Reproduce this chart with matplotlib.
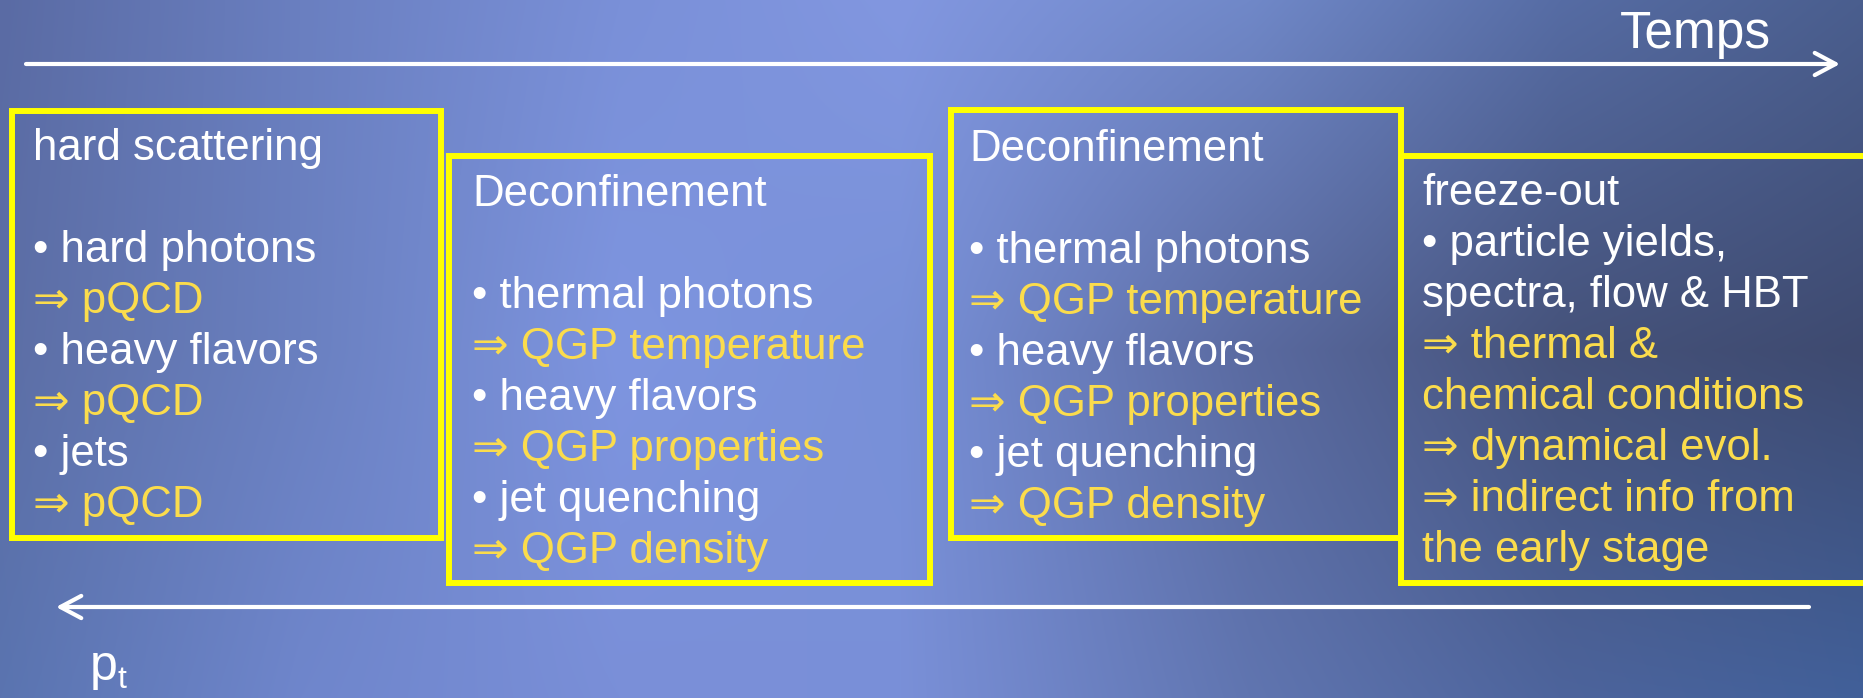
import numpy as np
import matplotlib
matplotlib.use("Agg")
import matplotlib.pyplot as plt
from matplotlib.patches import Rectangle

# ---------------- content ----------------
time_label = "Temps"
pt_label_main = "p"
pt_label_sub = "t"

box1_lines = [("hard scattering", "w"), ("", "w"),
              ("• hard photons", "w"), ("⇒ pQCD", "y"),
              ("• heavy flavors", "w"), ("⇒ pQCD", "y"),
              ("• jets", "w"), ("⇒ pQCD", "y")]
box2_lines = [("Deconfinement", "w"), ("", "w"),
              ("• thermal photons", "w"), ("⇒ QGP temperature", "y"),
              ("• heavy flavors", "w"), ("⇒ QGP properties", "y"),
              ("• jet quenching", "w"), ("⇒ QGP density", "y")]
box3_lines = [("Deconfinement", "w"), ("", "w"),
              ("• thermal photons", "w"), ("⇒ QGP temperature", "y"),
              ("• heavy flavors", "w"), ("⇒ QGP properties", "y"),
              ("• jet quenching", "w"), ("⇒ QGP density", "y")]
box4_lines = [("freeze-out", "w"),
              ("• particle yields,", "w"), ("spectra, flow & HBT", "w"),
              ("⇒ thermal &", "y"), ("chemical conditions", "y"),
              ("⇒ dynamical evol.", "y"), ("⇒ indirect info from", "y"),
              ("the early stage", "y")]

# ---------------- layout / style ----------------
W, H = 1863, 698
FONT = ["Liberation Sans", "DejaVu Sans"]
COL = {"w": "#ffffff", "y": "#fbdc4c"}
BOX_COLOR = "#ffff00"
PITCH = 51.0
FS = 31.5

# (left, top, right, bottom) of border centre lines, text x, first baseline
boxes = [
    (box1_lines, (12, 111, 441, 538), 33, 160),
    (box2_lines, (449, 156, 930, 583), 472, 206),
    (box3_lines, (951, 110, 1401, 538), 969, 161),
    (box4_lines, (1401, 156, 1880, 583), 1422, 205),
]

fig = plt.figure(figsize=(W / 100, H / 100), dpi=100)
ax = fig.add_axes([0, 0, 1, 1])
ax.set_xlim(0, W)
ax.set_ylim(H, 0)
ax.axis("off")

# ---------------- background gradient ----------------
def hx(c):
    return np.array([int(c[i:i + 2], 16) for i in (1, 3, 5)]) / 255.0

bg_x = np.array([0, 300, 620, 900, 1250, 1560, 1863])
bg_y = np.array([0, 350, 698])
bg_cols = [
    ["#5a6ba4", "#6a7fc0", "#7a90d8", "#8297e0", "#7088c8", "#566ca4", "#4a5e8e"],
    ["#5c6ea5", "#6a80c0", "#7e95e0", "#7890d8", "#5a6aa0", "#45527a", "#3e4a70"],
    ["#5a74b0", "#6f86cc", "#7a8fd8", "#7a90d8", "#6075b0", "#4d649c", "#41609a"],
]
xs = np.arange(W)
ys = np.arange(H)
rows = []
for r in bg_cols:
    arr = np.array([hx(c) for c in r])
    rows.append(np.stack([np.interp(xs, bg_x, arr[:, k]) for k in range(3)], axis=-1))
rows = np.array(rows)  # 3 x W x 3
img = np.stack([np.array([np.interp(ys, bg_y, rows[:, j, k]) for j in range(W)]).T
                for k in range(3)], axis=-1)
ax.imshow(img, extent=(0, W, H, 0), aspect="auto", zorder=0, interpolation="bilinear")

# ---------------- arrows ----------------
ax.annotate("", xy=(1840, 64), xytext=(26, 64),
            arrowprops=dict(arrowstyle="->,head_length=0.75,head_width=0.4",
                            lw=3, color="white", shrinkA=0, shrinkB=0,
                            mutation_scale=20))
ax.annotate("", xy=(56, 607), xytext=(1809, 607),
            arrowprops=dict(arrowstyle="->,head_length=0.75,head_width=0.4",
                            lw=3, color="white", shrinkA=0, shrinkB=0,
                            mutation_scale=20))

ax.text(1620, 48, time_label, color="white", fontsize=37, family=FONT,
        va="baseline", ha="left")
ax.text(90, 680, pt_label_main, color="white", fontsize=36, family=FONT,
        va="baseline", ha="left")
ax.text(118, 688, pt_label_sub, color="white", fontsize=23, family=FONT,
        va="baseline", ha="left")

# ---------------- boxes ----------------
for lines, (l, t, r, b), tx, by in boxes:
    ax.add_patch(Rectangle((l, t), r - l, b - t, fill=False, edgecolor=BOX_COLOR,
                           lw=4.3, joinstyle="miter", zorder=3))
    for i, (s, c) in enumerate(lines):
        if s:
            ax.text(tx, by + i * PITCH, s, color=COL[c], fontsize=FS, family=FONT,
                    va="baseline", ha="left", zorder=4)

fig.savefig("out.png", dpi=100)
